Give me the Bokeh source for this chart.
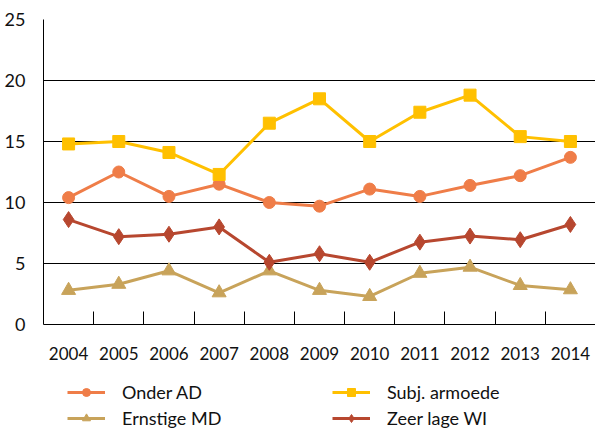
from bokeh.plotting import figure
from bokeh.layouts import column
from bokeh.models import FixedTicker, Range1d, Legend, LegendItem
from bokeh.embed import file_html
from bokeh.resources import INLINE

years = [2004, 2005, 2006, 2007, 2008, 2009, 2010, 2011, 2012, 2013, 2014]
onder_ad = [10.4, 12.5, 10.5, 11.5, 10.0, 9.7, 11.1, 10.5, 11.4, 12.2, 13.7]
subj_armoede = [14.8, 15.0, 14.1, 12.3, 16.5, 18.5, 15.0, 17.4, 18.8, 15.4, 15.0]
ernstige_md = [2.8, 3.3, 4.4, 2.6, 4.4, 2.8, 2.3, 4.2, 4.7, 3.2, 2.85]
zeer_lage_wi = [8.6, 7.2, 7.4, 8.0, 5.1, 5.8, 5.1, 6.75, 7.25, 6.95, 8.2]
y_ticks = [0, 5, 10, 15, 20, 25]

FONT = "Lato"
TXT = "#111111"
C_ORANGE = "#EF7D48"
C_YELLOW = "#FFC000"
C_TAN = "#C8A35A"
C_RED = "#B7472F"

p = figure(width=595, height=364, output_backend="svg", toolbar_location=None,
           x_range=Range1d(years[0] - 0.5, years[-1] + 0.5),
           y_range=Range1d(0, 25),
           min_border_left=43, min_border_top=19, min_border_right=0, min_border_bottom=40)
p.outline_line_color = None

p.xaxis.ticker = FixedTicker(ticks=years, minor_ticks=[y + 0.5 for y in years[:-1]])
p.xaxis.major_tick_line_color = None
p.xaxis.minor_tick_line_color = "black"
p.xaxis.minor_tick_in = 13
p.xaxis.minor_tick_out = 0
p.xaxis.axis_line_color = "black"
p.xaxis.major_label_text_font = FONT
p.xaxis.major_label_text_font_size = "17px"
p.xaxis.major_label_text_color = TXT
p.xaxis.major_label_standoff = 16

p.yaxis.ticker = FixedTicker(ticks=y_ticks)
p.yaxis.major_tick_line_color = None
p.yaxis.minor_tick_line_color = None
p.yaxis.axis_line_color = "black"
p.yaxis.major_label_text_font = FONT
p.yaxis.major_label_text_font_size = "18px"
p.yaxis.major_label_text_color = TXT
p.yaxis.major_label_standoff = 12

p.xgrid.grid_line_color = None
p.ygrid.grid_line_color = "black"
p.ygrid.grid_line_width = 1


def draw(fig, ys, color, marker, size):
    ln = fig.line(years, ys, line_color=color, line_width=3)
    mk = fig.scatter(years, ys, marker=marker, size=size,
                     fill_color=color, line_color=color)
    return [ln, mk]


draw(p, onder_ad, C_ORANGE, "circle", 12)
draw(p, subj_armoede, C_YELLOW, "square", 12)
draw(p, ernstige_md, C_TAN, "triangle", 14)
draw(p, zeer_lage_wi, C_RED, "diamond", 16)

# legend figure (same series, drawn out of view so only the legend shows)
p2 = figure(width=595, height=66, output_backend="svg", toolbar_location=None,
            x_range=Range1d(0, 1), y_range=Range1d(0, 1), min_border=0)
p2.outline_line_color = None
p2.axis.visible = False
p2.grid.visible = False
r1 = draw(p2, onder_ad, C_ORANGE, "circle", 12)
r2 = draw(p2, subj_armoede, C_YELLOW, "square", 12)
r3 = draw(p2, ernstige_md, C_TAN, "triangle", 14)
r4 = draw(p2, zeer_lage_wi, C_RED, "diamond", 16)

legend = Legend(items=[
    LegendItem(label="Onder AD", renderers=r1),
    LegendItem(label="Ernstige MD", renderers=r3),
    LegendItem(label="Subj. armoede", renderers=r2),
    LegendItem(label="Zeer lage WI", renderers=r4),
], ncols=2)
legend.location = (24, 1)
legend.border_line_color = None
legend.background_fill_alpha = 0
legend.label_text_font = FONT
legend.label_text_font_size = "18px"
legend.label_text_color = TXT
legend.glyph_width = 38
legend.glyph_height = 20
legend.label_standoff = 17
legend.label_width = 206
legend.spacing = 4
legend.padding = 0
legend.margin = 0
p2.add_layout(legend)

layout = column(p, p2, spacing=0)
open("out.html", "w").write(file_html(layout, INLINE))
